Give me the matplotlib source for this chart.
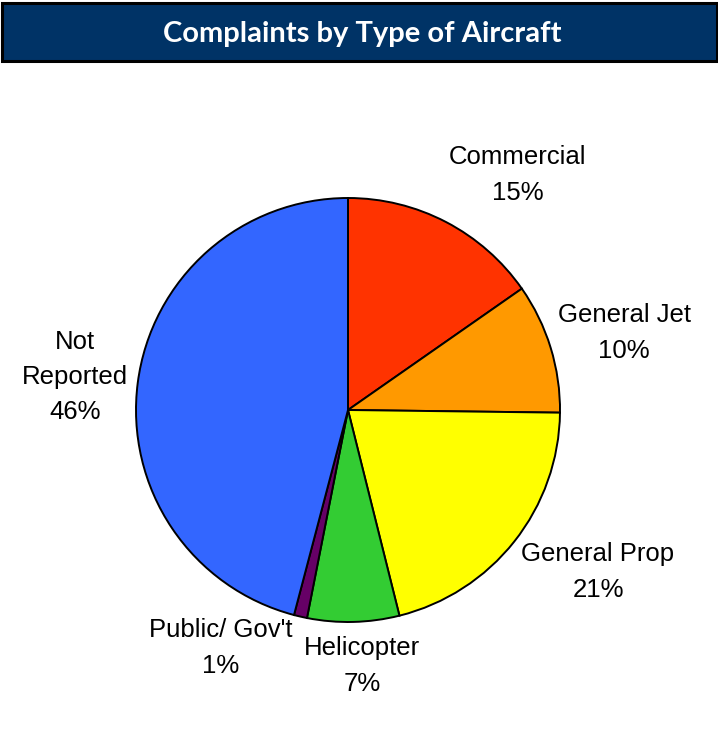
import matplotlib
matplotlib.use("Agg")
import matplotlib.pyplot as plt
from matplotlib.patches import Rectangle

W, H = 718, 745

categories = ["Commercial", "General Jet", "General Prop", "Helicopter", "Public/ Gov't", "Not Reported"]
shares = [15.3, 9.9, 20.9, 7.0, 1.0, 45.9]
pct_labels = ["15%", "10%", "21%", "7%", "1%", "46%"]
label_text = ["Commercial", "General Jet", "General Prop", "Helicopter", "Public/ Gov't", "Not\nReported"]
colors = ["#FF3300", "#FF9900", "#FFFF00", "#33CC33", "#660066", "#3366FF"]

# label centres in pixels (layout only)
label_pos = [(518, 175), (624, 333), (598, 572), (362, 666), (221, 648), (75, 377)]

fig = plt.figure(figsize=(W / 100, H / 100), dpi=100, facecolor="white")
ax = fig.add_axes([0, 0, 1, 1])

# title bar
ax.add_patch(Rectangle((1.5, H - 61), 715, 58, facecolor="#003366",
                       edgecolor="black", linewidth=2.2))
ax.text(362, H - 34, "Complaints by Type of Aircraft", color="white",
        fontsize=21, fontweight="bold", family=["Lato", "DejaVu Sans"],
        ha="center", va="center")

ax.pie(shares, colors=colors, startangle=90, counterclock=False,
       center=(348, H - 410), radius=212, frame=True,
       wedgeprops={"edgecolor": "black", "linewidth": 1.4})
ax.set_xlim(0, W)
ax.set_ylim(0, H)
ax.set_aspect("equal")
ax.axis("off")

for txt, pct, (px, py) in zip(label_text, pct_labels, label_pos):
    ax.text(px, H - py, f"{txt}\n{pct}", fontsize=18.5, family="Liberation Sans",
            ha="center", va="center", linespacing=1.6, color="black")

fig.savefig("out.png", dpi=100, facecolor="white")
